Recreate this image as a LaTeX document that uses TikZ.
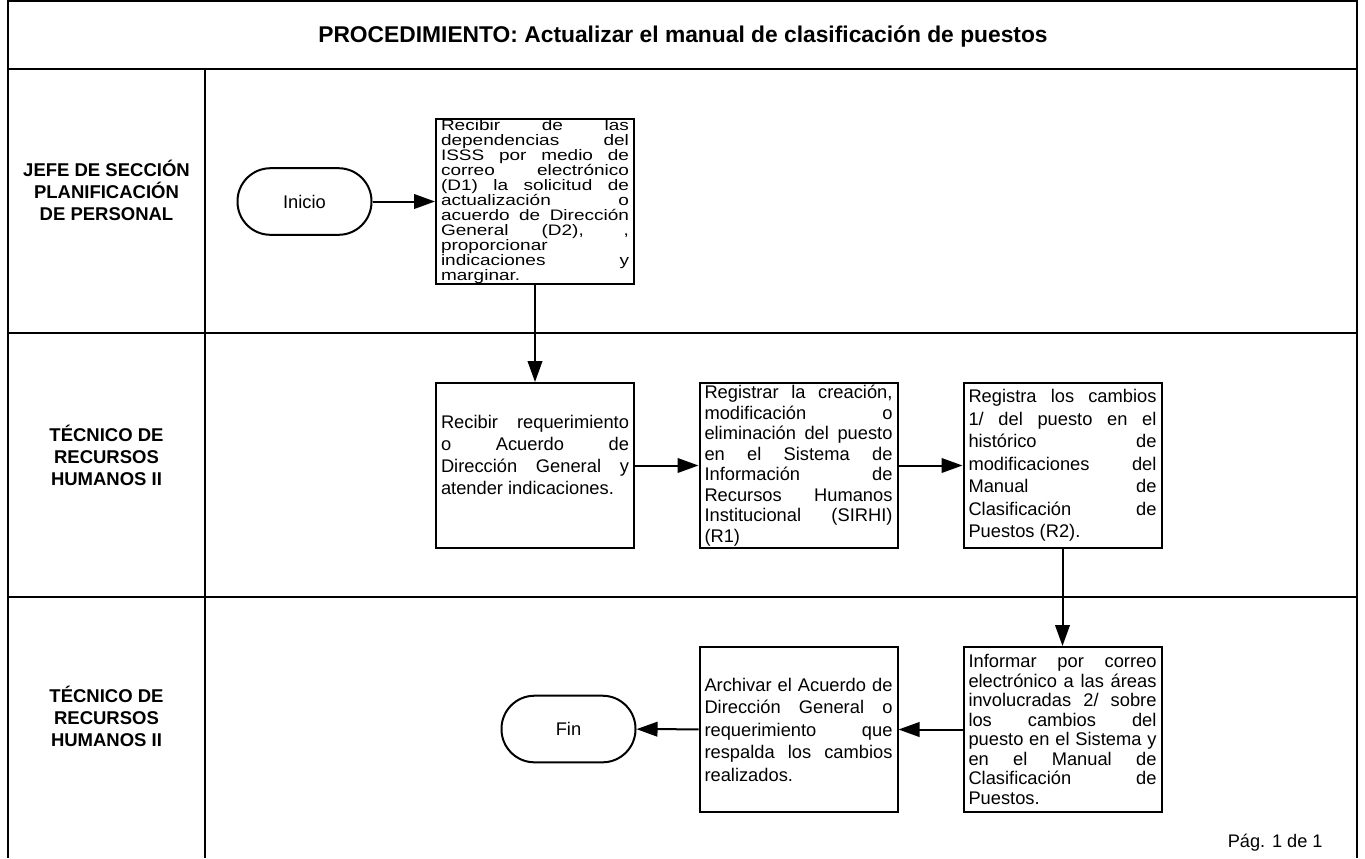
\documentclass[tikz,border=0pt]{standalone}
\usepackage{fontspec}
\setmainfont{Liberation Sans}
\newfontfamily\widesans{Liberation Sans}[FakeStretch=1.25]
\usetikzlibrary{arrows.meta}

% paragraph settings for the justified step texts
\newcommand\steppar{\tolerance=10000\relax\hbadness=10000\relax
  \hyphenpenalty=10000\relax\exhyphenpenalty=10000\relax}

% 1 unit = 1px of the sheet (0.5pt), y grows downwards
\tikzset{
  lane/.style={line width=1pt, line join=miter},
  proc/.style={draw, line width=1pt, rectangle, minimum width=99pt, minimum height=82.5pt,
    text width=94pt, inner xsep=2.5pt, inner ysep=0pt, align=justify,
    execute at begin node=\steppar, font=\fontsize{9.15pt}{11pt}\selectfont},
  term/.style={draw, line width=1pt, rectangle, rounded corners=16.5pt,
    minimum width=67pt, minimum height=33.3pt, font=\fontsize{9.15pt}{11pt}\selectfont},
  arr/.style={line width=1pt, -{Triangle[length=10.5pt,width=7.3pt]}},
  role/.style={align=center, font=\bfseries\fontsize{9.25pt}{11pt}\selectfont},
}

\begin{document}
\begin{tikzpicture}[x=0.5pt, y=-0.5pt]
\useasboundingbox (0,0) rectangle (1365,858);

% frame, header and swimlanes
\draw[lane] (8,858) -- (8,1) -- (1357,1) -- (1357,858);
\draw[lane] (8,69) -- (1357,69);
\draw[lane] (8,333) -- (1357,333);
\draw[lane] (8,597) -- (1357,597);
\draw[lane] (205,69) -- (205,858);

\node[font=\bfseries\fontsize{11.4pt}{13pt}\selectfont] (title) at (683,36)
  {PROCEDIMIENTO: Actualizar el manual de clasificación de puestos};

\node[role] (r1) at (106.5,190) {JEFE DE SECCIÓN\\PLANIFICACIÓN\\DE PERSONAL};
\node[role] (r2) at (106.5,455) {TÉCNICO DE\\RECURSOS\\HUMANOS II};
\node[role] (r3) at (106.5,716) {TÉCNICO DE\\RECURSOS\\HUMANOS II};

% steps
\node[term] (ini) at (304.5,201.5) {Inicio};

\node[proc, font=\widesans\fontsize{7.6pt}{7.5pt}\selectfont]
  (b1) at (535,201.5)
  {Recibir de las\linebreak dependencias del\linebreak ISSS por medio de\linebreak
   correo electrónico\linebreak (D1) la solicitud de\linebreak actualización o\linebreak
   acuerdo de Dirección\linebreak General (D2), ,\linebreak proporcionar\linebreak
   indicaciones y\linebreak marginar.};

\node[proc] (b2) at (535,465.5)
  {Recibir requerimiento\linebreak o Acuerdo de\linebreak Dirección General y\linebreak
   atender indicaciones.\\\mbox{}};

\node[proc, font=\fontsize{9.15pt}{10.25pt}\selectfont]
  (b3) at (798.5,465.5)
  {Registrar la creación,\linebreak modificación o\linebreak eliminación del puesto\linebreak
   en el Sistema de\linebreak Información de\linebreak Recursos Humanos\linebreak
   Institucional (SIRHI)\linebreak (R1)};

\node[proc, font=\fontsize{9.15pt}{11.25pt}\selectfont]
  (b4) at (1062.5,465.5)
  {Registra los cambios\linebreak 1/ del puesto en el\linebreak histórico de\linebreak
   modificaciones del\linebreak Manual de\linebreak Clasificación de\linebreak
   Puestos (R2).};

\node[proc, font=\fontsize{9.15pt}{9.75pt}\selectfont]
  (b5) at (1062.5,729.5)
  {Informar por correo\linebreak electrónico a las áreas\linebreak involucradas 2/ sobre\linebreak
   los cambios del\linebreak puesto en el Sistema y\linebreak en el Manual de\linebreak
   Clasificación de\linebreak Puestos.};

\node[proc, font=\fontsize{9.15pt}{11.25pt}\selectfont]
  (b6) at (798.5,729.5)
  {Archivar el Acuerdo de\linebreak Dirección General o\linebreak requerimiento que\linebreak
   respalda los cambios\linebreak realizados.};

\node[term] (fin) at (568.5,729) {Fin};

\node[anchor=east, inner sep=0pt, font=\fontsize{9.1pt}{11pt}\selectfont] (pg) at (1323,843)
  {Pág. 1 de 1};

% flow
\draw[arr] (ini) -- (b1);
\draw[arr] (b1) -- (b2);
\draw[arr] (b2) -- (b3);
\draw[arr] (b3) -- (b4);
\draw[arr] (b4) -- (b5);
\draw[arr] (b5) -- (b6);
\draw[arr] (b6) -- (fin);
\end{tikzpicture}
\end{document}
